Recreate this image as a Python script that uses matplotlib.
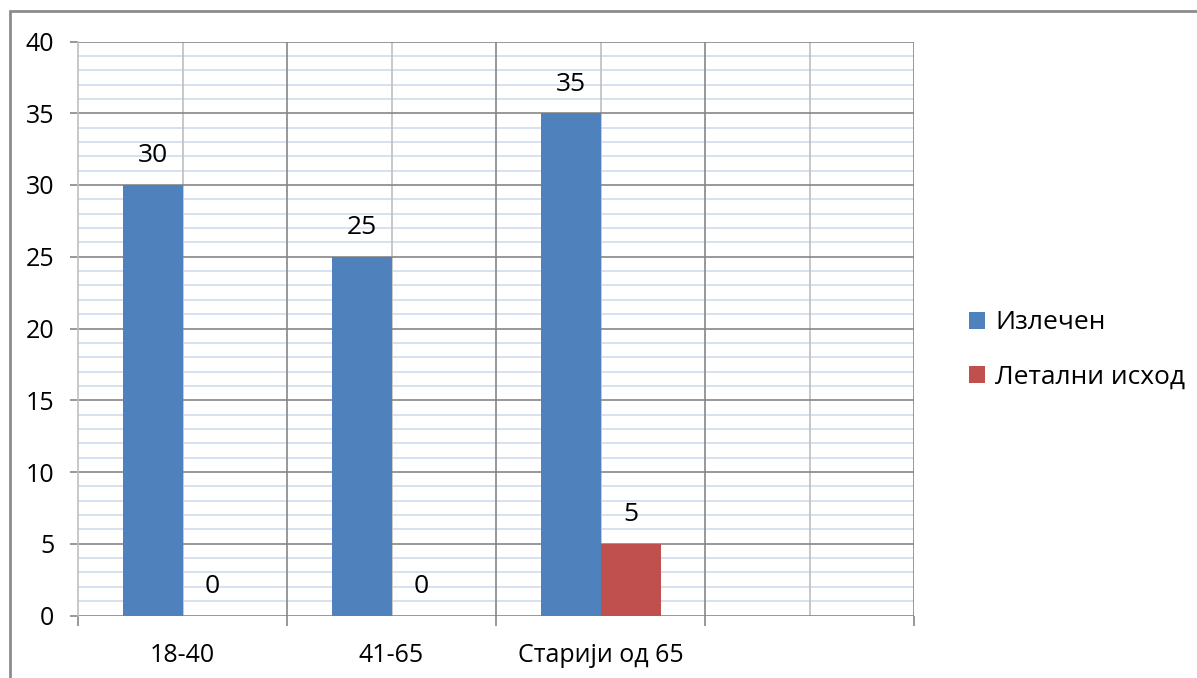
import numpy as np
import matplotlib.pyplot as plt
from matplotlib.patches import Rectangle

# Data
categories = ["18-40", "41-65", "Старији од 65", ""]
cured = [30, 25, 35, None]
deaths = [0, 0, 5, None]
series_names = ["Излечен", "Летални исход"]
colors = ["#4F81BD", "#C0504D"]

plt.rcParams['font.family'] = ['Open Sans', 'DejaVu Sans']

fig = plt.figure(figsize=(11.97, 6.78), dpi=100)
ax = fig.add_axes([78 / 1197, 1 - 615.5 / 678, (914 - 78) / 1197, (615.5 - 41.5) / 678])

# outer frame of the chart area (runs off the image right and bottom)
fig.patches.append(Rectangle((10 / 1197, -0.05), 1.2, 1 - 11 / 678 + 0.05,
                             transform=fig.transFigure, fill=False,
                             edgecolor="#8C8C8C", linewidth=2))

w = 60 / 209
x = np.arange(len(categories))
for i in range(len(categories)):
    if cured[i] is None:
        continue
    ax.bar(i + 0.5 - w, cured[i], width=w, align="edge", color=colors[0],
           label=series_names[0] if i == 0 else None, zorder=3)
    ax.bar(i + 0.5, deaths[i], width=w, align="edge", color=colors[1],
           label=series_names[1] if i == 0 else None, zorder=3)
    ax.annotate(str(cured[i]), (i + 0.5 - w / 2, cured[i]), xytext=(0, 12),
                textcoords="offset points", ha="center", va="bottom", fontsize=19)
    ax.annotate(str(deaths[i]), (i + 0.5 + w / 2, deaths[i]), xytext=(0, 12),
                textcoords="offset points", ha="center", va="bottom", fontsize=19)

ax.set_xlim(0, len(categories))
ax.set_ylim(0, 40)

# horizontal grid: light blue every 1, gray every 5
for v in range(0, 41):
    if v % 5:
        ax.axhline(v, color="#D0DBEE", linewidth=1.2, zorder=1)
for v in range(0, 41, 5):
    ax.axhline(v, color="#868686", linewidth=1.2, zorder=2)
# vertical grid: darker at category borders, lighter in the middle
for c in range(len(categories)):
    ax.axvline(c + 0.5, color="#BFBFBF", linewidth=1.2, zorder=1)
for c in range(1, len(categories) + 1):
    ax.axvline(c, color="#868686", linewidth=1.2, zorder=2)

for s in ["top", "right", "bottom"]:
    ax.spines[s].set_visible(False)
ax.spines["left"].set_color("#BFBFBF")
ax.spines["left"].set_linewidth(1.2)

ax.set_yticks(range(0, 41, 5))
ax.tick_params(axis="y", length=6, width=1.2, color="#868686", pad=11, labelsize=18)
ax.set_xticks(range(0, len(categories) + 1))
ax.set_xticklabels([])
ax.tick_params(axis="x", which="major", length=7, width=1.2, color="#868686")
ax.set_xticks(x + 0.5, minor=True)
ax.set_xticklabels(categories, minor=True)
ax.tick_params(axis="x", which="minor", length=0, pad=20, labelsize=18)

fig.legend(loc="center left", bbox_to_anchor=(945 / 1197, 1 - 350 / 678),
           frameon=False, fontsize=19, handlelength=0.6, handleheight=0.6,
           handletextpad=0.4, labelspacing=1.1)

fig.savefig("out.png", dpi=100)
